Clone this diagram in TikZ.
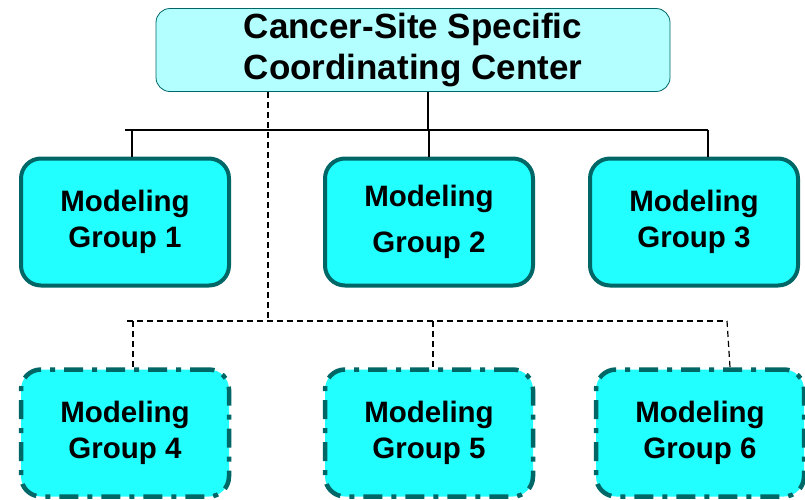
\documentclass[tikz,border=0pt]{standalone}
\usepackage{fontspec}
\setmainfont{Liberation Sans}
\definecolor{teal1}{HTML}{006666}
\definecolor{cyanA}{HTML}{22FFFF}
\definecolor{cyanL}{HTML}{B3FFFF}
\begin{document}
\begin{tikzpicture}[x=1pt,y=-1pt,
  grp/.style={draw=teal1,fill=cyanA,line width=4pt,rounded corners=20pt,minimum width=208pt,minimum height=127pt,align=center,font=\bfseries\fontsize{29.5}{36}\selectfont,inner sep=0pt},
  grpd/.style={grp,line width=4.5pt,dash pattern=on 19pt off 9pt on 5pt off 9pt},
  top/.style={draw=teal1,fill=cyanL,line width=0.8pt,rounded corners=14pt,minimum width=514pt,minimum height=83pt,align=center,font=\bfseries\fontsize{35}{41}\selectfont,inner sep=0pt},
  bus/.style={line width=1.2pt},
  dbus/.style={line width=1.2pt,dash pattern=on 6pt off 4pt}]
\useasboundingbox (0,0) rectangle (805,499);
\node[top] (c) at (413,50) {Cancer-Site Specific\\Coordinating Center};
\node[grp] (g1) at (125,222) {Modeling\\Group 1};
\node[grp,font=\bfseries\fontsize{29.5}{46}\selectfont] (g2) at (429,222) {Modeling\\Group 2};
\node[grp] (g3) at (694,222) {Modeling\\Group 3};
\node[grpd] (g4) at (125,433) {Modeling\\Group 4};
\node[grpd] (g5) at (429,433) {Modeling\\Group 5};
\node[grpd] (g6) at (700,433) {Modeling\\Group 6};
% solid bus
\coordinate (sl) at (125,130);
\coordinate (sr) at (708,130);
\draw[bus] (sl) -- (sr);
\draw[bus] (c.south -| 428,0) -- (428,130);
\draw[bus] (132,130) -- (g1.north -| 132,0);
\draw[bus] (429,130) -- (g2.north);
\draw[bus] (708,130) -- (g3.north -| 708,0);
% dashed bus
\draw[dbus] (c.south -| 268,0) -- (268,321);
\draw[dbus] (127,321) -- (727,321);
\draw[dbus] (133,321) -- (g4.north -| 133,0);
\draw[dbus] (433,321) -- (g5.north -| 433,0);
\draw[dbus] (727,321) -- (g6.north -| 730,0);
\end{tikzpicture}
\end{document}
